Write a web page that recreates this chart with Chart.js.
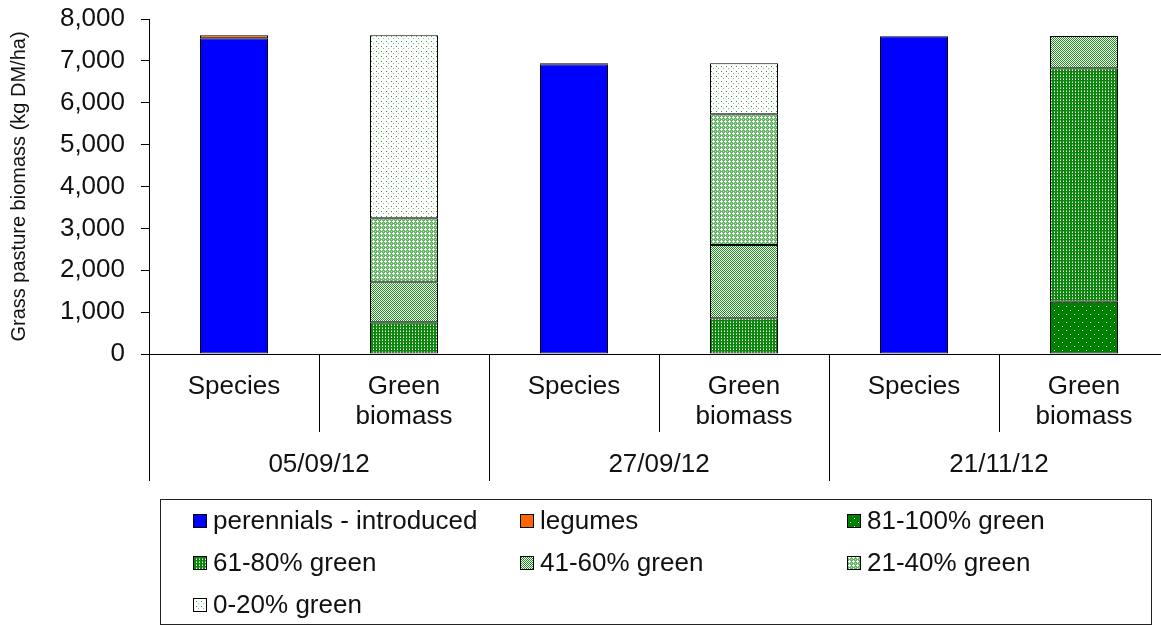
<!DOCTYPE html>
<html>
<head>
<meta charset="utf-8">
<script src="https://cdn.jsdelivr.net/npm/chart.js@4"></script>
<style>
  html, body { margin: 0; padding: 0; background: #fff; overflow: hidden; }
</style>
</head>
<body>
<canvas id="biomass" width="1169" height="626"></canvas>
<script>
// categories on the x axis, two per sampling date
const categories = [['Species'], ['Green', 'biomass'], ['Species'], ['Green', 'biomass'], ['Species'], ['Green', 'biomass']];
const dates = ['05/09/12', '27/09/12', '21/11/12'];
const yTicks = [0, 1000, 2000, 3000, 4000, 5000, 6000, 7000, 8000];

// kg DM/ha, null where the series is not part of that bar
const perennials = [7540, null, 6920, null, 7590, null];
const legumes = [70, null, 25, null, null, null];
const green81to100 = [null, null, null, null, null, 1250];
const green61to80 = [null, 757, null, 852, null, 5572];
const green41to60 = [null, 955, null, 1751, null, 772];
const green21to40 = [null, 1528, null, 3121, null, null];
const green0to20 = [null, 4370, null, 1218, null, null];

const FONT = '"Liberation Sans", Arial, sans-serif';

// little pixel tiles to fake the excel fill patterns
function tile(w, h, bg, dots) {
  const c = document.createElement('canvas');
  c.width = w; c.height = h;
  const g = c.getContext('2d');
  g.fillStyle = bg;
  g.fillRect(0, 0, w, h);
  dots.forEach(d => { g.fillStyle = d[2]; g.fillRect(d[0], d[1], 1, 1); });
  return g.createPattern(c, 'repeat');
}
const W = '#ffffff', G = '#008000';
const pat81 = tile(8, 8, G, [[2, 2, W], [6, 6, W]]);
const pat61 = tile(3, 3, '#0b870b', [[1, 1, W], [1, 0, '#7fc07f']]);
const pat41 = tile(2, 2, W, [[0, 0, '#1a901a'], [1, 1, '#1a901a']]);
const pat21 = tile(4, 4, '#62b562', [[1, 0, W], [0, 1, W], [1, 1, W], [2, 1, W], [1, 2, W], [3, 3, '#b5dcb5']]);
const pat0 = tile(5, 5, W, [[1, 1, '#2f9a2f'], [3, 3, '#7cc47c']]);

function ds(label, data, fill) {
  return { label: label, data: data, backgroundColor: fill, borderColor: '#000', borderWidth: 1, borderSkipped: false, barPercentage: 0.4, categoryPercentage: 1 };
}

const data = {
  labels: categories,
  datasets: [
    ds('perennials - introduced', perennials, '#0000ff'),
    ds('legumes', legumes, '#ff6600'),
    ds('81-100% green', green81to100, pat81),
    ds('61-80% green', green61to80, pat61),
    ds('41-60% green', green41to60, pat41),
    ds('21-40% green', green21to40, pat21),
    ds('0-20% green', green0to20, pat0)
  ]
};

// multi level category axis + boxed legend, excel style
const excelBits = {
  id: 'excelBits',
  afterDraw(chart) {
    const ctx = chart.ctx;
    const x = chart.scales.x;
    const top = chart.chartArea.bottom;
    const step = x.getPixelForValue(1) - x.getPixelForValue(0);
    ctx.save();
    ctx.strokeStyle = '#000';
    ctx.lineWidth = 1;
    for (let i = 0; i <= categories.length; i++) {
      const px = Math.round(x.getPixelForValue(0) - step / 2 + i * step) + 0.5;
      ctx.beginPath();
      ctx.moveTo(px, top);
      ctx.lineTo(px, top + (i % 2 ? 78 : 127));
      ctx.stroke();
    }
    ctx.fillStyle = '#111';
    ctx.font = '26px ' + FONT;
    ctx.textAlign = 'center';
    ctx.textBaseline = 'middle';
    categories.forEach((c, i) => {
      c.forEach((line, j) => ctx.fillText(line, x.getPixelForValue(i), 387 + j * 30));
    });
    dates.forEach((d, g) => {
      ctx.fillText(d, (x.getPixelForValue(2 * g) + x.getPixelForValue(2 * g + 1)) / 2, 465);
    });

    // legend
    ctx.strokeStyle = '#222';
    ctx.strokeRect(160.5, 499.5, 991, 125);
    const colX = [193, 520, 847];
    const rowY = [521, 563, 605];
    ctx.textAlign = 'left';
    chart.data.datasets.forEach((d, i) => {
      const lx = colX[i % 3], ly = rowY[Math.floor(i / 3)];
      ctx.fillStyle = d.backgroundColor;
      ctx.fillRect(lx, ly - 7, 14, 14);
      ctx.strokeStyle = '#000';
      ctx.strokeRect(lx + 0.5, ly - 6.5, 13, 13);
      ctx.fillStyle = '#111';
      ctx.fillText(d.label, lx + 20, ly + 1);
    });
    ctx.restore();
  }
};

new Chart(document.getElementById('biomass'), {
  type: 'bar',
  data: data,
  plugins: [excelBits],
  options: {
    responsive: false,
    animation: false,
    layout: { padding: { top: 19, right: 0, left: 0, bottom: 0 } },
    plugins: { legend: { display: false }, tooltip: { enabled: false } },
    scales: {
      x: {
        stacked: true,
        ticks: { display: false },
        grid: { display: false },
        border: { display: true, color: '#000', width: 1 },
        afterFit(scale) { scale.height = 272; }
      },
      y: {
        stacked: true,
        min: 0,
        max: 8000,
        afterBuildTicks(scale) { scale.ticks = yTicks.map(v => ({ value: v })); },
        ticks: {
          color: '#111',
          font: { family: FONT, size: 26 },
          padding: 16,
          callback: v => v.toLocaleString('en-US')
        },
        grid: { drawOnChartArea: false, drawTicks: true, tickLength: 8, color: '#000' },
        border: { display: true, color: '#000', width: 1 },
        title: {
          display: true,
          text: 'Grass pasture biomass (kg DM/ha)',
          color: '#111',
          font: { family: FONT, size: 20 },
          padding: { top: 7, bottom: 0 }
        },
        afterFit(scale) {
          scale.width = 149;
          scale.paddingTop = 0;
          scale.paddingBottom = 0;
        }
      }
    }
  }
});
</script>
</body>
</html>
